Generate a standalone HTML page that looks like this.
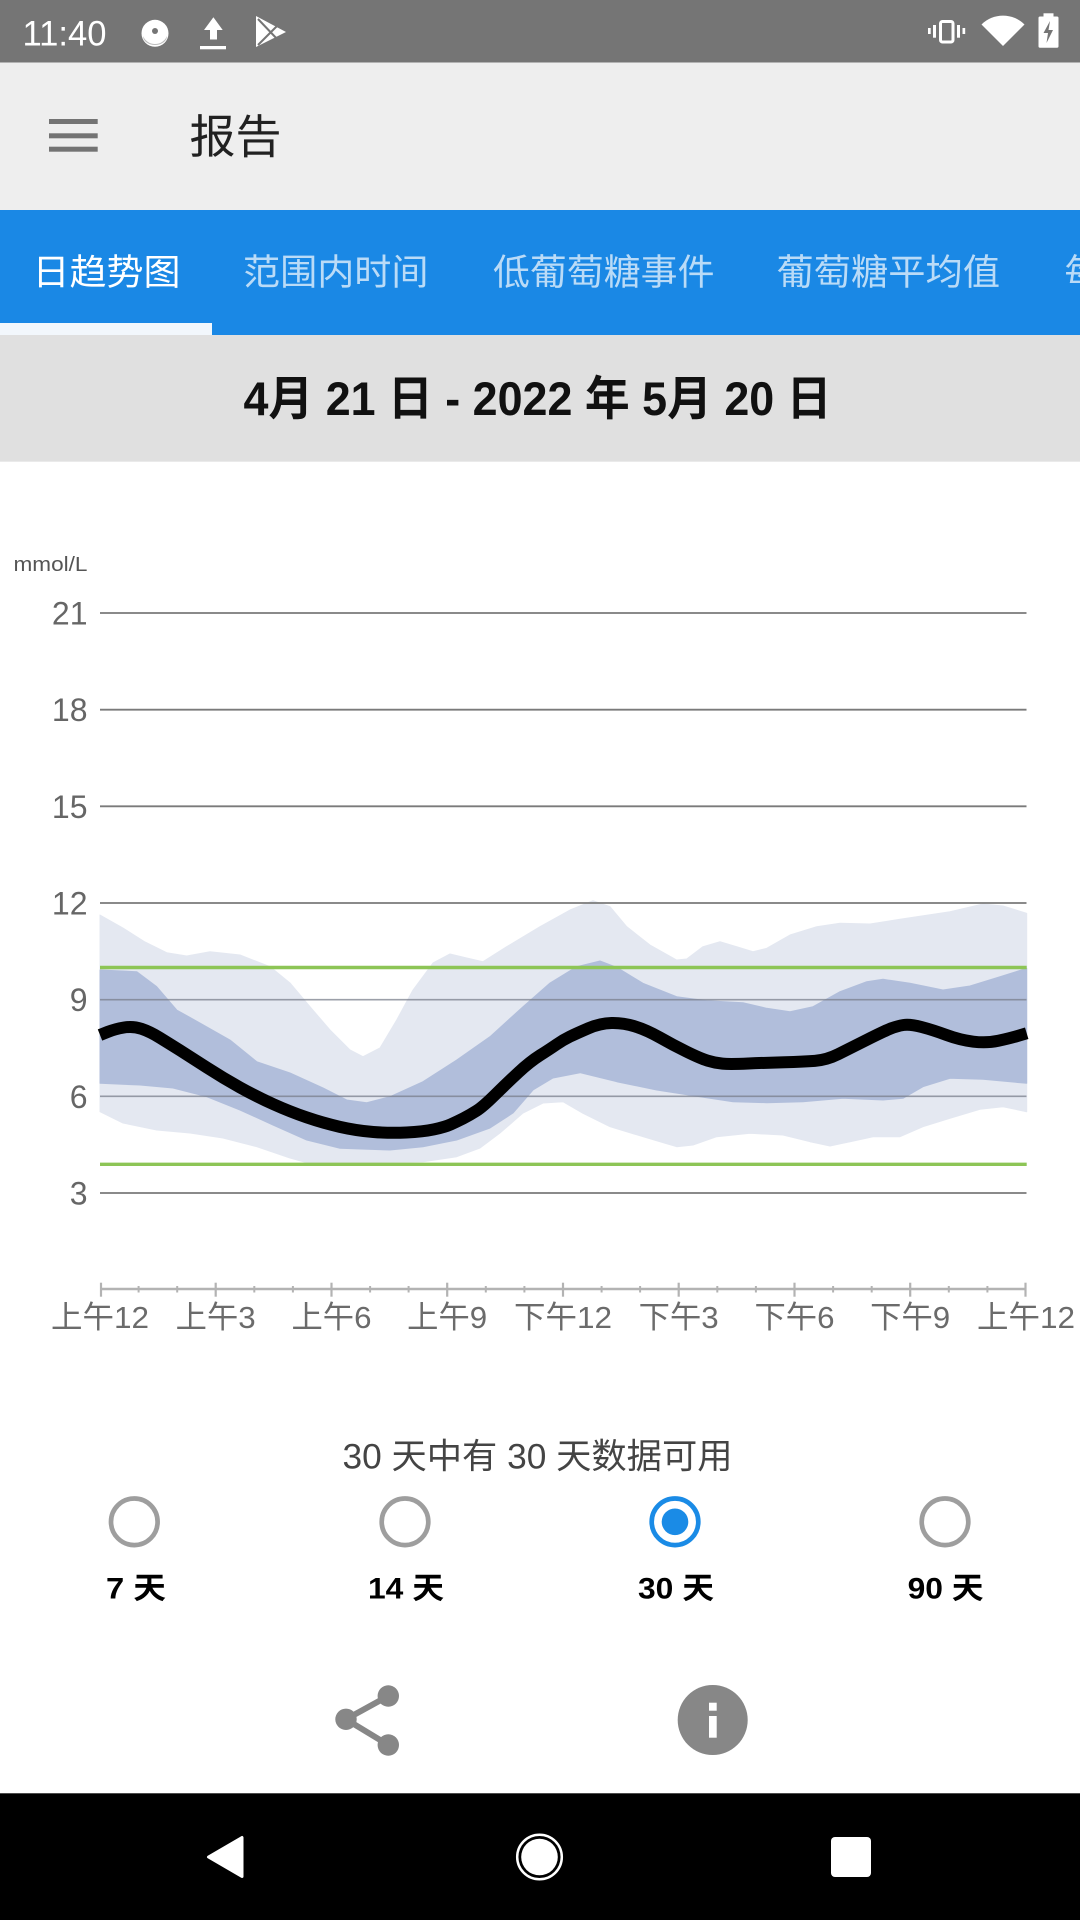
<!DOCTYPE html>
<html>
<head>
<meta charset="utf-8">
<style>
  html, body { margin:0; padding:0; background:#ffffff; }
  body { width:1080px; height:1920px; overflow:hidden; }
  svg { display:block; }
  text { font-family: "Liberation Sans", "Noto Sans CJK SC", sans-serif; }
</style>
</head>
<body>
<svg width="1080" height="1920" viewBox="0 0 1080 1920" xmlns="http://www.w3.org/2000/svg">
  <!-- backgrounds -->
  <rect x="0" y="0" width="1080" height="1920" fill="#ffffff"/>
  <rect x="0" y="0" width="1080" height="62.5" fill="#757575"/>
  <rect x="0" y="62.5" width="1080" height="147.5" fill="#eeeeee"/>
  <rect x="0" y="210" width="1080" height="125" fill="#1a88e5"/>
  <rect x="0" y="323" width="212" height="12" fill="#f2f7fc"/>
  <rect x="0" y="335" width="1080" height="126.7" fill="#e0e0e0"/>

  <!-- status bar -->
  <text x="22.5" y="45.7" font-size="35" fill="#ffffff" textLength="84" lengthAdjust="spacingAndGlyphs">11:40</text>
  <circle cx="155" cy="33.3" r="13.5" fill="#ffffff"/>
  <path d="M143 36 A13 13 0 0 0 167 36 A12 9 0 0 1 143 36 Z" fill="#bdbdbd"/>
  <circle cx="155" cy="31" r="3" fill="#757575"/>
  <polygon points="204,30 213.4,17.3 222.7,30" fill="#ffffff"/>
  <rect x="210" y="29" width="7" height="10.5" fill="#ffffff"/>
  <rect x="200" y="46" width="26" height="3.3" fill="#ffffff"/>
  <polygon points="256,16 286,32 256,47" fill="#ffffff"/>
  <line x1="258" y1="19" x2="279" y2="41" stroke="#757575" stroke-width="2"/>
  <line x1="258" y1="45" x2="279" y2="24" stroke="#757575" stroke-width="2"/>
  <!-- vibrate -->
  <rect x="940.5" y="21.5" width="12.5" height="20.5" rx="2" fill="none" stroke="#ffffff" stroke-width="3"/>
  <rect x="933" y="25" width="3" height="12.7" fill="#ffffff"/>
  <rect x="928" y="28" width="2.7" height="6" fill="#ffffff"/>
  <rect x="957" y="25" width="3" height="12.7" fill="#ffffff"/>
  <rect x="962.5" y="28" width="2.7" height="6" fill="#ffffff"/>
  <!-- wifi -->
  <path d="M1003 46 L981.5 24.5 A30.5 30.5 0 0 1 1024.5 24.5 Z" fill="#ffffff"/>
  <!-- battery -->
  <rect x="1043.5" y="13.3" width="10" height="5" fill="#ffffff"/>
  <rect x="1038.5" y="16.5" width="20" height="31.2" rx="1.5" fill="#ffffff"/>
  <polygon points="1050,21 1043.5,33 1048,33 1046.5,43 1053,30 1048.5,30" fill="#757575"/>

  <!-- app bar -->
  <rect x="49" y="119" width="48.7" height="5" fill="#737373"/>
  <rect x="49" y="133.3" width="48.7" height="5" fill="#737373"/>
  <rect x="49" y="146.7" width="48.7" height="5" fill="#737373"/>
  <text x="189.5" y="153" font-size="46" fill="#212121" textLength="92" lengthAdjust="spacingAndGlyphs">报告</text>

  <!-- tabs -->
  <text x="32.5" y="284.3" font-size="36" fill="#ffffff" textLength="148" lengthAdjust="spacingAndGlyphs">日趋势图</text>
  <text x="243" y="284.3" font-size="36" fill="#badbf7" textLength="185.5" lengthAdjust="spacingAndGlyphs">范围内时间</text>
  <text x="493" y="284.3" font-size="36" fill="#badbf7" textLength="221.5" lengthAdjust="spacingAndGlyphs">低葡萄糖事件</text>
  <text x="776.5" y="284.3" font-size="36" fill="#badbf7" textLength="223.6" lengthAdjust="spacingAndGlyphs">葡萄糖平均值</text>
  <text x="1064.5" y="284.3" font-size="36" fill="#badbf7">每日图</text>

  <!-- date -->
  <text x="243.5" y="415" font-size="47" font-weight="bold" fill="#111111" textLength="588" lengthAdjust="spacingAndGlyphs">4月 21 日 - 2022 年 5月 20 日</text>

  <!-- chart -->
  <text x="13.5" y="571" font-size="20" fill="#555555" textLength="74" lengthAdjust="spacingAndGlyphs">mmol/L</text>

  <!-- bands -->
  <polygon fill="#e4e8f1" stroke="#e4e8f1" stroke-width="1" stroke-linejoin="round" points="100,915 123,928 145,942 166.7,952.7 186.7,956 210,951.7 240,955 270,966.7 290,983 310,1006.7 330,1030 350,1050 363,1056.7 380,1048 396.7,1020 413,990 433,963 450,954 466.7,958 483,961.7 506.7,946.7 540,926.7 570,910 593,900.7 610,906.7 626.7,926.7 650,945 676.7,960 686.7,959 703,946.7 720,941.7 736.7,946.7 753,951.7 766.7,948.3 790,935 816.7,926.7 840,923.3 870,924 900,919.3 950,911.7 983,904 1003,906 1026.7,913.3 1026.7,1111.7 1003,1106.7 980,1109.3 950,1118.3 923,1126.7 900,1136.7 873,1136.7 850,1141.7 830,1146 810,1141.7 783,1135 750,1133.3 716.7,1136.7 693,1145 676.7,1146.7 643,1136.7 610,1126.7 583,1113.3 563,1101.7 543,1103 523,1113 500,1133 480,1148 456.7,1156.7 423,1161.7 356.7,1163 306.7,1162.7 290,1158 256.7,1146.7 223,1138 190,1133 156.7,1130 123,1123 100,1111.7"/>
  <polygon fill="#b1bedb" stroke="#b1bedb" stroke-width="1" stroke-linejoin="round" points="100,970 136.7,971.7 156.7,986.7 176.7,1010 200,1023 230,1040 256.7,1061.7 290,1073 323,1088 346.7,1100 366.7,1102.7 390,1096.7 423,1081.7 456.7,1060 490,1036.7 523,1006.7 550,983 576.7,966.7 600,961 616.7,967.3 643,983.3 676.7,996.7 706.7,1000.7 743,1002.7 766.7,1008.3 790,1011.7 813,1006.7 840,991.7 866.7,981.7 883,979.3 910,983.3 943,990 970,986 1000,976.7 1026.7,968.3 1026.7,1083.3 983,1079.3 950,1078.3 923,1086.7 903,1098.3 883,1100 843,1098.3 803,1101.7 766.7,1102.7 733,1101.7 700,1096.7 656.7,1090 616.7,1081.7 580,1072.7 553,1078 533,1090 513,1113 490,1128 456.7,1140 423,1146.7 390,1150 340,1148.3 306.7,1140 273,1125 240,1110 206.7,1096.7 173,1088 140,1085 100,1083.3"/>

  <!-- gridlines -->
  <g stroke="#7a7a7a" stroke-width="1.8">
    <line x1="100" y1="613" x2="1026.5" y2="613"/>
    <line x1="100" y1="709.7" x2="1026.5" y2="709.7"/>
    <line x1="100" y1="806.3" x2="1026.5" y2="806.3"/>
    <line x1="100" y1="903" x2="1026.5" y2="903"/>
  </g>
  <g stroke="#7a7f8c" stroke-width="1.6" opacity="0.75">
    <line x1="100" y1="999.7" x2="1026.5" y2="999.7"/>
    <line x1="100" y1="1096.3" x2="1026.5" y2="1096.3"/>
  </g>
  <line x1="100" y1="1193" x2="1026.5" y2="1193" stroke="#7a7a7a" stroke-width="1.8"/>

  <!-- y labels -->
  <g font-size="32" fill="#666666" text-anchor="end">
    <text x="87.5" y="624.5">21</text>
    <text x="87.5" y="721.2">18</text>
    <text x="87.5" y="817.8">15</text>
    <text x="87.5" y="914.5">12</text>
    <text x="87.5" y="1011.2">9</text>
    <text x="87.5" y="1107.8">6</text>
    <text x="87.5" y="1204.5">3</text>
  </g>

  <!-- target range lines -->
  <line x1="100" y1="967.5" x2="1026.7" y2="967.5" stroke="#8dc556" stroke-width="3.4"/>
  <line x1="100" y1="1164.3" x2="1026.7" y2="1164.3" stroke="#8dc556" stroke-width="3.4"/>

  <!-- median -->
  <path fill="none" stroke="#000000" stroke-width="12" stroke-linejoin="round" d="M100,1035 L107.5,1032 Q115,1029 124,1027.5 Q133,1026 141.5,1028.85 Q150,1031.7 160,1037.85 Q170,1044 180,1050.35 Q190,1056.7 206.5,1067.35 Q223,1078 239.85,1087.35 Q256.7,1096.7 273.35,1104.2 Q290,1111.7 306.5,1117.35 Q323,1123 339.85,1126.85 Q356.7,1130.7 373.35,1132 Q390,1133.3 406.5,1132.5 Q423,1131.7 434,1129.35 Q445,1127 450.85,1124.35 Q456.7,1121.7 463.35,1118.35 Q470,1115 476.5,1110.85 Q483,1106.7 494.85,1095 Q506.7,1083.3 518.35,1072.5 Q530,1061.7 540,1055.35 Q550,1049 556.5,1044.5 Q563,1040 569.85,1036.65 Q576.7,1033.3 588.35,1028.3 Q600,1023.3 611.5,1023 Q623,1022.7 634.85,1026.35 Q646.7,1030 659.85,1037.5 Q673,1045 686.5,1051.65 Q700,1058.3 707.5,1060.65 Q715,1063 722.5,1063.65 Q730,1064.3 748.35,1063.5 Q766.7,1062.7 784.85,1062.2 Q803,1061.7 814.85,1060.85 Q826.7,1060 838.35,1054.15 Q850,1048.3 866.5,1040 Q883,1031.7 890,1028.85 Q897,1026 903.5,1025 Q910,1024 921.5,1027 Q933,1030 946.5,1035 Q960,1040 973.35,1041.65 Q986.7,1043.3 998.35,1040.8 Q1010,1038.3 1018.35,1035.8 L1026.7,1033.3"/>

  <!-- x axis -->
  <line x1="100" y1="1289" x2="1026.5" y2="1289" stroke="#b3b3b3" stroke-width="2.5"/>
  <g stroke="#b3b3b3" stroke-width="2.2">
    <line x1="101" y1="1282.7" x2="101" y2="1296.7"/>
    <line x1="215.7" y1="1282.7" x2="215.7" y2="1296.7"/>
    <line x1="331.5" y1="1282.7" x2="331.5" y2="1296.7"/>
    <line x1="447.2" y1="1282.7" x2="447.2" y2="1296.7"/>
    <line x1="563" y1="1282.7" x2="563" y2="1296.7"/>
    <line x1="678.7" y1="1282.7" x2="678.7" y2="1296.7"/>
    <line x1="794.5" y1="1282.7" x2="794.5" y2="1296.7"/>
    <line x1="910.2" y1="1282.7" x2="910.2" y2="1296.7"/>
    <line x1="1025.5" y1="1282.7" x2="1025.5" y2="1296.7"/>
  </g>
  <g stroke="#b3b3b3" stroke-width="2">
    <line x1="138.6" y1="1286" x2="138.6" y2="1292.5"/>
    <line x1="177.2" y1="1286" x2="177.2" y2="1292.5"/>
    <line x1="254.3" y1="1286" x2="254.3" y2="1292.5"/>
    <line x1="292.9" y1="1286" x2="292.9" y2="1292.5"/>
    <line x1="370.1" y1="1286" x2="370.1" y2="1292.5"/>
    <line x1="408.6" y1="1286" x2="408.6" y2="1292.5"/>
    <line x1="485.8" y1="1286" x2="485.8" y2="1292.5"/>
    <line x1="524.4" y1="1286" x2="524.4" y2="1292.5"/>
    <line x1="601.6" y1="1286" x2="601.6" y2="1292.5"/>
    <line x1="640.1" y1="1286" x2="640.1" y2="1292.5"/>
    <line x1="717.3" y1="1286" x2="717.3" y2="1292.5"/>
    <line x1="755.9" y1="1286" x2="755.9" y2="1292.5"/>
    <line x1="833.1" y1="1286" x2="833.1" y2="1292.5"/>
    <line x1="871.7" y1="1286" x2="871.7" y2="1292.5"/>
    <line x1="948.8" y1="1286" x2="948.8" y2="1292.5"/>
    <line x1="987.4" y1="1286" x2="987.4" y2="1292.5"/>
  </g>
  <g font-size="31" fill="#6b6b6b" text-anchor="middle">
    <text x="100" y="1328" textLength="98" lengthAdjust="spacingAndGlyphs">上午12</text>
    <text x="215.7" y="1328" textLength="80" lengthAdjust="spacingAndGlyphs">上午3</text>
    <text x="331.5" y="1328" textLength="80" lengthAdjust="spacingAndGlyphs">上午6</text>
    <text x="447.2" y="1328" textLength="80" lengthAdjust="spacingAndGlyphs">上午9</text>
    <text x="563" y="1328" textLength="98" lengthAdjust="spacingAndGlyphs">下午12</text>
    <text x="678.7" y="1328" textLength="80" lengthAdjust="spacingAndGlyphs">下午3</text>
    <text x="794.5" y="1328" textLength="80" lengthAdjust="spacingAndGlyphs">下午6</text>
    <text x="910.2" y="1328" textLength="80" lengthAdjust="spacingAndGlyphs">下午9</text>
    <text x="1026" y="1328" textLength="98" lengthAdjust="spacingAndGlyphs">上午12</text>
  </g>

  <!-- data availability -->
  <text x="537.5" y="1468.5" font-size="35" fill="#444444" text-anchor="middle" textLength="390" lengthAdjust="spacingAndGlyphs">30 天中有 30 天数据可用</text>

  <!-- radios -->
  <circle cx="134.3" cy="1521.8" r="23.3" fill="none" stroke="#9e9e9e" stroke-width="4.7"/>
  <circle cx="405" cy="1521.8" r="23.3" fill="none" stroke="#9e9e9e" stroke-width="4.7"/>
  <circle cx="675" cy="1521.8" r="23.3" fill="none" stroke="#1a8be6" stroke-width="4.7"/>
  <circle cx="675" cy="1521.8" r="13.3" fill="#1a8be6"/>
  <circle cx="945" cy="1521.8" r="23.3" fill="none" stroke="#9e9e9e" stroke-width="4.7"/>
  <g font-size="30" font-weight="bold" fill="#000000" text-anchor="middle">
    <text x="136" y="1598.5" textLength="60" lengthAdjust="spacingAndGlyphs">7 天</text>
    <text x="406" y="1598.5" textLength="76" lengthAdjust="spacingAndGlyphs">14 天</text>
    <text x="676" y="1598.5" textLength="76" lengthAdjust="spacingAndGlyphs">30 天</text>
    <text x="945.6" y="1598.5" textLength="76" lengthAdjust="spacingAndGlyphs">90 天</text>
  </g>

  <!-- share icon -->
  <g fill="#878787" stroke="#878787">
    <line x1="346" y1="1719.3" x2="388.3" y2="1696" stroke-width="6"/>
    <line x1="346" y1="1719.3" x2="388.3" y2="1745" stroke-width="6"/>
    <circle cx="388.3" cy="1696" r="10.7" stroke="none"/>
    <circle cx="346" cy="1719.3" r="10.7" stroke="none"/>
    <circle cx="388.3" cy="1745" r="10.7" stroke="none"/>
  </g>
  <!-- info icon -->
  <circle cx="712.7" cy="1720" r="35" fill="#878787"/>
  <rect x="709" y="1702.7" width="7.7" height="8" fill="#ffffff"/>
  <rect x="709" y="1716" width="7.7" height="21.7" fill="#ffffff"/>

  <!-- nav bar -->
  <rect x="0" y="1793.3" width="1080" height="126.7" fill="#000000"/>
  <polygon points="208.5,1857 242,1837.5 242,1876.5" fill="#ffffff" stroke="#ffffff" stroke-width="3" stroke-linejoin="round"/>
  <circle cx="539.5" cy="1857" r="22.3" fill="none" stroke="#ffffff" stroke-width="2.5"/>
  <circle cx="539.5" cy="1857" r="18.3" fill="#ffffff"/>
  <rect x="831" y="1837" width="40" height="40" rx="4" fill="#ffffff"/>
</svg>
</body>
</html>
